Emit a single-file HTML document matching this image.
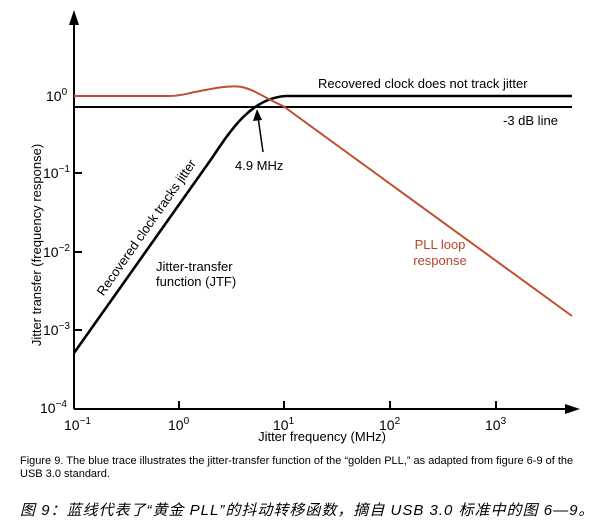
<!DOCTYPE html>
<html><head><meta charset="utf-8"><style>
body{margin:0;background:#fff;width:600px;height:522px;overflow:hidden}
svg{display:block}
</style></head><body>
<svg width="600" height="522" viewBox="0 0 600 522" font-family="Liberation Sans, sans-serif">
<!-- axes -->
<line x1="74" y1="409" x2="74" y2="22" stroke="#000" stroke-width="2"/>
<path d="M74,10 L69,25 L79,25 Z" fill="#000"/>
<line x1="74" y1="409" x2="566" y2="409" stroke="#000" stroke-width="2"/>
<path d="M580,409 L565,404 L565,414 Z" fill="#000"/>
<g stroke="#000" stroke-width="2">
<line x1="179" y1="409" x2="179" y2="401"/><line x1="284" y1="409" x2="284" y2="401"/>
<line x1="390" y1="409" x2="390" y2="401"/><line x1="496" y1="409" x2="496" y2="401"/>
<line x1="74" y1="173" x2="82" y2="173"/><line x1="74" y1="252" x2="82" y2="252"/>
<line x1="74" y1="330" x2="82" y2="330"/>
</g>
<g font-size="14" fill="#000">
<text x="46" y="101">10<tspan font-size="10" dy="-6">0</tspan></text>
<text x="43" y="178">10<tspan font-size="10" dy="-6">−1</tspan></text>
<text x="43" y="257">10<tspan font-size="10" dy="-6">−2</tspan></text>
<text x="43" y="335">10<tspan font-size="10" dy="-6">−3</tspan></text>
<text x="40" y="413">10<tspan font-size="10" dy="-6">−4</tspan></text>
<text x="64" y="430">10<tspan font-size="10" dy="-6">−1</tspan></text>
<text x="168" y="430">10<tspan font-size="10" dy="-6">0</tspan></text>
<text x="273" y="430">10<tspan font-size="10" dy="-6">1</tspan></text>
<text x="379" y="430">10<tspan font-size="10" dy="-6">2</tspan></text>
<text x="485" y="430">10<tspan font-size="10" dy="-6">3</tspan></text>
</g>
<g font-size="13" fill="#000">
<text x="322" y="441" text-anchor="middle">Jitter frequency (MHz)</text>
<text transform="translate(41,245) rotate(-90)" text-anchor="middle">Jitter transfer (frequency response)</text>
<text x="318" y="88">Recovered clock does not track jitter</text>
<text x="503" y="125">-3 dB line</text>
<text x="235" y="170">4.9 MHz</text>
<text x="156" y="271">Jitter-transfer</text>
<text x="156" y="286">function (JTF)</text>
<text transform="translate(150,230) rotate(-55)" text-anchor="middle">Recovered clock tracks jitter</text>
<text x="440" y="249" text-anchor="middle" fill="#b8452a">PLL loop</text>
<text x="440" y="265" text-anchor="middle" fill="#b8452a">response</text>
</g>
<!-- lines -->
<line x1="74" y1="107" x2="572" y2="107" stroke="#000" stroke-width="2"/>
<path d="M74,353 L212,158 C232,128 252,98 286,96 L572,96" fill="none" stroke="#000" stroke-width="2.6"/>
<path d="M74,96 L170,96 C180,96 185,94 195,92 C215,88 230,85 242,87 C255,90 265,98 283,106 L572,316" fill="none" stroke="#c0502f" stroke-width="2"/>
<line x1="263" y1="152" x2="258" y2="117" stroke="#000" stroke-width="1.5"/>
<path d="M257,109 L253,121 L262,120 Z" fill="#000"/>
<g font-size="11" fill="#000">
<text x="20" y="464">Figure 9. The blue trace illustrates the jitter-transfer function of the “golden PLL,” as adapted from figure 6-9 of the</text>
<text x="20" y="477">USB 3.0 standard.</text>
</g>
<text x="20" y="515" font-size="15" font-style="italic" fill="#000" letter-spacing="1" font-family="Liberation Sans, Noto Sans CJK SC, sans-serif">图 9：蓝线代表了“黄金 PLL”的抖动转移函数，摘自 USB 3.0 标准中的图 6—9。</text>
</svg>
</body></html>
